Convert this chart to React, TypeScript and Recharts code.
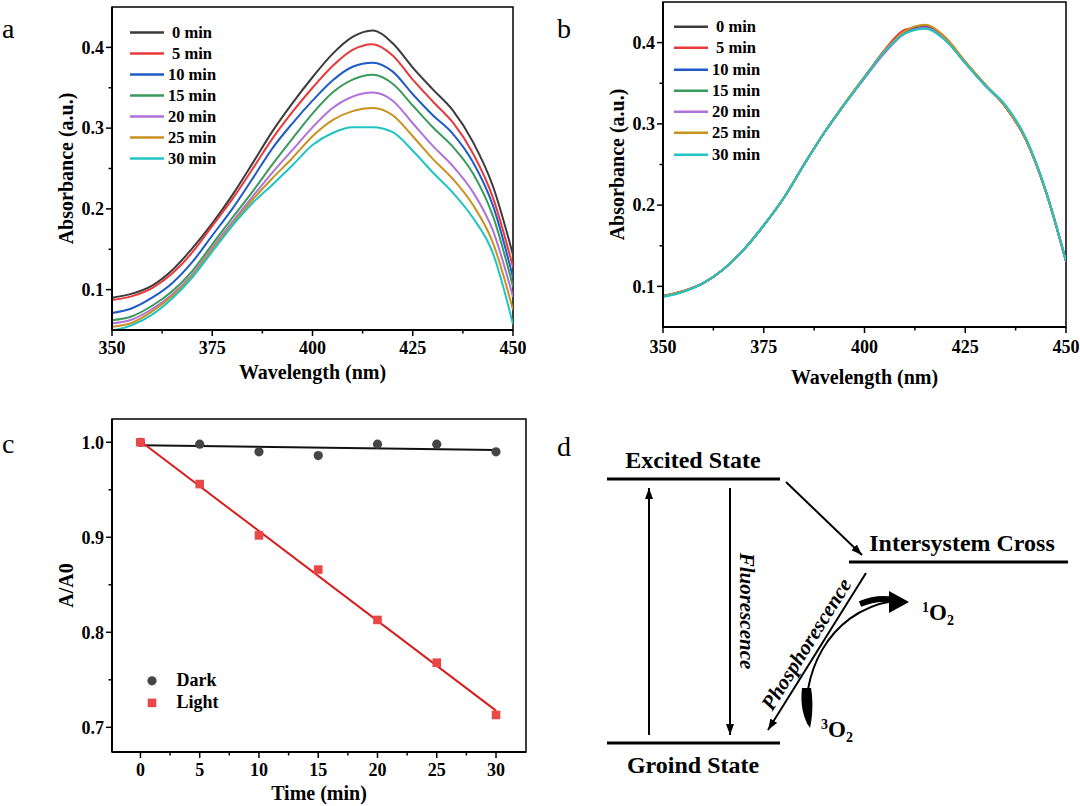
import {
  ComposedChart,
  Legend,
  Line,
  LineChart,
  ReferenceArea,
  Scatter,
  XAxis,
  YAxis,
} from "recharts";

// wavelengths (nm) shared by panels a and b
const WAVELENGTHS = [350, 355, 360, 365, 370, 375, 380, 385, 390, 395, 400, 405, 410, 415, 420, 425, 430, 435, 440, 445, 450];

// panel a: absorbance under light
const A_0 = [0.090, 0.095, 0.105, 0.124, 0.151, 0.182, 0.217, 0.256, 0.296, 0.331, 0.363, 0.392, 0.413, 0.421, 0.405, 0.375, 0.348, 0.322, 0.283, 0.228, 0.143];
const A_5 = [0.087, 0.092, 0.102, 0.120, 0.146, 0.179, 0.212, 0.249, 0.287, 0.320, 0.350, 0.377, 0.397, 0.404, 0.390, 0.360, 0.333, 0.307, 0.269, 0.214, 0.128];
const A_10 = [0.071, 0.077, 0.090, 0.108, 0.134, 0.167, 0.200, 0.237, 0.275, 0.306, 0.334, 0.359, 0.376, 0.381, 0.370, 0.342, 0.316, 0.293, 0.258, 0.204, 0.115];
const A_15 = [0.062, 0.067, 0.080, 0.098, 0.123, 0.156, 0.189, 0.221, 0.255, 0.287, 0.318, 0.344, 0.360, 0.366, 0.355, 0.328, 0.301, 0.277, 0.244, 0.191, 0.104];
const A_20 = [0.058, 0.063, 0.076, 0.094, 0.119, 0.152, 0.184, 0.215, 0.245, 0.273, 0.301, 0.325, 0.339, 0.344, 0.334, 0.306, 0.278, 0.253, 0.221, 0.173, 0.091];
const A_25 = [0.054, 0.059, 0.073, 0.092, 0.117, 0.150, 0.181, 0.211, 0.238, 0.263, 0.290, 0.310, 0.321, 0.325, 0.316, 0.290, 0.262, 0.237, 0.205, 0.158, 0.075];
const A_30 = [0.049, 0.056, 0.069, 0.089, 0.115, 0.147, 0.179, 0.207, 0.230, 0.254, 0.279, 0.294, 0.301, 0.301, 0.295, 0.272, 0.245, 0.220, 0.189, 0.145, 0.057];

// panel b: absorbance in the dark
const B_0 = [0.088, 0.094, 0.104, 0.121, 0.145, 0.175, 0.209, 0.250, 0.289, 0.324, 0.357, 0.390, 0.413, 0.421, 0.406, 0.376, 0.348, 0.321, 0.281, 0.217, 0.131];
const B_5 = [0.088, 0.094, 0.104, 0.121, 0.145, 0.175, 0.209, 0.250, 0.289, 0.324, 0.357, 0.391, 0.416, 0.420, 0.405, 0.376, 0.348, 0.321, 0.281, 0.217, 0.131];
const B_10 = [0.088, 0.094, 0.104, 0.121, 0.145, 0.175, 0.209, 0.250, 0.289, 0.324, 0.358, 0.389, 0.412, 0.419, 0.404, 0.375, 0.347, 0.321, 0.281, 0.217, 0.131];
const B_15 = [0.088, 0.094, 0.104, 0.121, 0.145, 0.175, 0.209, 0.250, 0.289, 0.324, 0.357, 0.389, 0.412, 0.418, 0.404, 0.375, 0.347, 0.322, 0.282, 0.217, 0.131];
const B_20 = [0.088, 0.094, 0.104, 0.121, 0.145, 0.175, 0.209, 0.250, 0.289, 0.324, 0.356, 0.387, 0.411, 0.418, 0.404, 0.375, 0.347, 0.322, 0.282, 0.217, 0.131];
const B_25 = [0.088, 0.094, 0.104, 0.121, 0.145, 0.175, 0.209, 0.250, 0.289, 0.325, 0.358, 0.390, 0.414, 0.422, 0.407, 0.377, 0.348, 0.321, 0.281, 0.217, 0.131];
const B_30 = [0.087, 0.093, 0.104, 0.121, 0.145, 0.175, 0.209, 0.250, 0.289, 0.324, 0.357, 0.389, 0.411, 0.417, 0.403, 0.375, 0.347, 0.323, 0.283, 0.218, 0.131];

const SERIES_NAMES = ["0 min", "5 min", "10 min", "15 min", "20 min", "25 min", "30 min"];
const SERIES_COLORS = ["#3b3b3b", "#e8393c", "#1f5bc6", "#3a9a5c", "#b071d9", "#c9921f", "#22c3c3"];

// panel c: A/A0 vs time
const TIMES = [0, 5, 10, 15, 20, 25, 30];
const DARK = [1.0, 0.998, 0.99, 0.986, 0.998, 0.998, 0.99];
const LIGHT = [1.0, 0.956, 0.902, 0.866, 0.813, 0.768, 0.713];
const FIT_TIMES = [0, 30];
const DARK_FIT = [0.997, 0.992];
const LIGHT_FIT = [1.001, 0.7175];

// ticks
const WL_MAJOR = [350, 375, 400, 425, 450];
const WL_TICKS = [350, 362.5, 375, 387.5, 400, 412.5, 425, 437.5, 450];
const ABS_MAJOR = [0.1, 0.2, 0.3, 0.4];
const ABS_TICKS = [0.1, 0.15, 0.2, 0.25, 0.3, 0.35, 0.4];
const T_MAJOR = [0, 5, 10, 15, 20, 25, 30];
const T_TICKS = [0, 2.5, 5, 7.5, 10, 12.5, 15, 17.5, 20, 22.5, 25, 27.5, 30];
const R_MAJOR = [0.7, 0.8, 0.9, 1.0];
const R_TICKS = [0.7, 0.75, 0.8, 0.85, 0.9, 0.95, 1.0];

const FONT = "'Liberation Serif', 'Times New Roman', serif";

const specA = [A_0, A_5, A_10, A_15, A_20, A_25, A_30];
const specB = [B_0, B_5, B_10, B_15, B_20, B_25, B_30];

function toRows(spec: number[][]) {
  return WAVELENGTHS.map((wl, i) => {
    const row: Record<string, number> = { wl };
    spec.forEach((s, k) => {
      row["s" + k] = s[i];
    });
    return row;
  });
}

const rowsA = toRows(specA);
const rowsB = toRows(specB);
const darkData = TIMES.map((t, i) => ({ t, v: DARK[i] }));
const lightData = TIMES.map((t, i) => ({ t, v: LIGHT[i] }));
const darkFit = FIT_TIMES.map((t, i) => ({ t, v: DARK_FIT[i] }));
const lightFit = FIT_TIMES.map((t, i) => ({ t, v: LIGHT_FIT[i] }));

const tickText = { fontFamily: FONT, fontWeight: 700, fontSize: 18, fill: "#000" };
const titleText = { fontFamily: FONT, fontWeight: 700, fontSize: 20, fill: "#000" };

function leftTick(axisX: number, majors: number[], digits: number) {
  return (p: any) => {
    const v = p.payload.value;
    const major = majors.includes(v);
    return (
      <g>
        <line x1={axisX} x2={axisX - (major ? 6 : 3.5)} y1={p.y} y2={p.y} stroke="#000" strokeWidth={1.5} />
        {major && (
          <text x={axisX - 8} y={p.y} dy="0.35em" textAnchor="end" {...tickText}>
            {v.toFixed(digits)}
          </text>
        )}
      </g>
    );
  };
}

function bottomTick(axisY: number, majors: number[], gap: number) {
  return (p: any) => {
    const v = p.payload.value;
    const major = majors.includes(v);
    return (
      <g>
        <line x1={p.x} x2={p.x} y1={axisY} y2={axisY + (major ? 6 : 3.5)} stroke="#000" strokeWidth={1.5} />
        {major && (
          <text x={p.x} y={axisY + gap} dy="0.35em" textAnchor="middle" {...tickText}>
            {v}
          </text>
        )}
      </g>
    );
  };
}

function yTitle(text: string, x: number, y: number) {
  return () => (
    <text transform={`translate(${x},${y}) rotate(-90)`} textAnchor="middle" dy="0.35em" {...titleText}>
      {text}
    </text>
  );
}

function xTitle(text: string, x: number, y: number) {
  return () => (
    <text x={x} y={y} textAnchor="middle" dy="0.35em" {...titleText}>
      {text}
    </text>
  );
}

function lineLegend(left: number, top: number, rowH: number, lineW: number) {
  return (
    <Legend
      layout="horizontal"
      verticalAlign="middle"
      align="center"
      itemSorter="dataKey"
      wrapperStyle={{ left, top, width: 120, height: rowH * 7 }}
      content={(props: any) => (
        <div style={{ fontFamily: FONT, fontWeight: 700, fontSize: 16.5 }}>
          {(props.payload || []).map((e: any) => (
            <div key={e.value} style={{ display: "flex", alignItems: "center", height: rowH }}>
              <svg width={lineW} height={rowH} style={{ display: "block" }}>
                <line x1={0} x2={lineW} y1={rowH / 2} y2={rowH / 2} stroke={e.color} strokeWidth={2.5} />
              </svg>
              <span style={{ width: 56, textAlign: "center", lineHeight: `${rowH}px` }}>{e.value}</span>
            </div>
          ))}
        </div>
      )}
    />
  );
}

function SpectrumChart({
  rows,
  margin,
  legendLeft,
  legendTop,
  legendRow,
  xTitleGap,
  xTickGap,
}: {
  rows: Record<string, number>[];
  margin: { top: number; right: number; bottom: number; left: number };
  legendLeft: number;
  legendTop: number;
  legendRow: number;
  xTitleGap: number;
  xTickGap: number;
}) {
  const W = 540;
  const H = 400;
  const axisX = margin.left + 60;
  const axisY = H - margin.bottom - 30;
  const midX = (axisX + W - margin.right) / 2;
  const midY = (margin.top + axisY) / 2;
  return (
    <LineChart width={W} height={H} data={rows} margin={margin}>
      <XAxis
        type="number"
        dataKey="wl"
        domain={[350, 450]}
        ticks={WL_TICKS}
        interval={0}
        allowDataOverflow
        height={30}
        tickLine={false}
        axisLine={{ stroke: "#000", strokeWidth: 2 }}
        tick={bottomTick(axisY, WL_MAJOR, xTickGap)}
        label={xTitle("Wavelength (nm)", midX, axisY + xTitleGap)}
      />
      <YAxis
        type="number"
        domain={[0.05, 0.45]}
        ticks={ABS_TICKS}
        interval={0}
        allowDataOverflow
        width={60}
        tickLine={false}
        axisLine={{ stroke: "#000", strokeWidth: 2 }}
        tick={leftTick(axisX, ABS_MAJOR, 1)}
        label={yTitle("Absorbance (a.u.)", axisX - 46, midY)}
      />
      <ReferenceArea x1={350} x2={450} y1={0.05} y2={0.45} fill="none" stroke="#000" strokeWidth={1.5} ifOverflow="visible" />
      {SERIES_NAMES.map((name, k) => (
        <Line
          key={name}
          type="monotone"
          dataKey={"s" + k}
          name={name}
          stroke={SERIES_COLORS[k]}
          strokeWidth={2}
          dot={false}
          isAnimationActive={false}
        />
      ))}
      {lineLegend(legendLeft, legendTop, legendRow, 34)}
    </LineChart>
  );
}

function RatioChart() {
  const W = 540;
  const H = 406;
  const margin = { top: 19, right: 14, bottom: 24, left: 52 };
  const axisX = margin.left + 60;
  const axisY = H - margin.bottom - 30;
  const midX = (axisX + W - margin.right) / 2;
  const midY = (margin.top + axisY) / 2;
  return (
    <ComposedChart width={W} height={H} margin={margin}>
      <XAxis
        type="number"
        dataKey="t"
        domain={[-2.4, 32.53]}
        ticks={T_TICKS}
        interval={0}
        allowDataOverflow
        height={30}
        tickLine={false}
        axisLine={{ stroke: "#000", strokeWidth: 2 }}
        tick={bottomTick(axisY, T_MAJOR, 18)}
        label={xTitle("Time (min)", midX, axisY + 41)}
      />
      <YAxis
        type="number"
        dataKey="v"
        domain={[0.674, 1.0245]}
        ticks={R_TICKS}
        interval={0}
        allowDataOverflow
        width={60}
        tickLine={false}
        axisLine={{ stroke: "#000", strokeWidth: 2 }}
        tick={leftTick(axisX, R_MAJOR, 1)}
        label={yTitle("A/A0", axisX - 46, midY)}
      />
      <ReferenceArea x1={-2.4} x2={32.53} y1={0.674} y2={1.0245} fill="none" stroke="#000" strokeWidth={1.5} ifOverflow="visible" />
      <Scatter
        name="Dark"
        data={darkData}
        dataKey="v"
        fill="#454545"
        isAnimationActive={false}
        shape={(p: any) => <circle cx={p.cx} cy={p.cy} r={4.6} fill="#454545" />}
      />
      <Scatter
        name="Light"
        data={lightData}
        dataKey="v"
        fill="#e84848"
        isAnimationActive={false}
        shape={(p: any) => <rect x={p.cx - 4.3} y={p.cy - 4.3} width={8.6} height={8.6} fill="#e84848" />}
      />
      <Line data={darkFit} dataKey="v" type="linear" stroke="#111" strokeWidth={2} dot={false} legendType="none" isAnimationActive={false} />
      <Line data={lightFit} dataKey="v" type="linear" stroke="#d91c1c" strokeWidth={2} dot={false} legendType="none" isAnimationActive={false} />
      <Legend
        layout="horizontal"
        verticalAlign="middle"
        align="center"
        wrapperStyle={{ left: 144, top: 270, width: 120, height: 44 }}
        content={(props: any) => (
          <div style={{ fontFamily: FONT, fontWeight: 700, fontSize: 18 }}>
            {(props.payload || [])
              .filter((e: any) => e.value === "Dark" || e.value === "Light")
              .map((e: any) => (
                <div key={e.value} style={{ display: "flex", alignItems: "center", height: 21.7 }}>
                  <svg width={16} height={21.7} style={{ display: "block" }}>
                    {e.value === "Dark" ? (
                      <circle cx={8} cy={10.85} r={4.6} fill="#454545" />
                    ) : (
                      <rect x={3.7} y={6.55} width={8.6} height={8.6} fill="#e84848" />
                    )}
                  </svg>
                  <span style={{ marginLeft: 16.5, lineHeight: "21.7px" }}>{e.value}</span>
                </div>
              ))}
          </div>
        )}
      />
    </ComposedChart>
  );
}

function Diagram() {
  const bold = { fontFamily: FONT, fontWeight: 700, fill: "#000" };
  const ital = { fontFamily: FONT, fontWeight: 700, fontStyle: "italic", fill: "#000" };
  const letter = { fontFamily: FONT, fontSize: 28, fill: "#000" };
  return (
    <svg width={1080} height={806} style={{ position: "absolute", left: 0, top: 0, pointerEvents: "none" }}>
      <defs>
        <marker id="ah" viewBox="0 0 11 8" refX={11} refY={4} markerWidth={11} markerHeight={8} markerUnits="userSpaceOnUse" orient="auto">
          <path d="M0,0 L11,4 L0,8 z" fill="#000" />
        </marker>
      </defs>
      <text x={2} y={38} {...letter}>a</text>
      <text x={557} y={38} {...letter}>b</text>
      <text x={2} y={453} {...letter}>c</text>
      <text x={557} y={456} {...letter}>d</text>

      <text x={693} y={468} textAnchor="middle" fontSize={24} {...bold}>Excited State</text>
      <line x1={607} x2={780} y1={479} y2={479} stroke="#000" strokeWidth={3} />
      <line x1={607} x2={780} y1={743} y2={743} stroke="#000" strokeWidth={3} />
      <text x={693} y={773} textAnchor="middle" fontSize={24} {...bold}>Groind State</text>

      <line x1={649} x2={649} y1={735} y2={488} stroke="#000" strokeWidth={2} markerEnd="url(#ah)" />
      <line x1={730} x2={730} y1={488} y2={735} stroke="#000" strokeWidth={2} markerEnd="url(#ah)" />
      <text transform="translate(747,611) rotate(90)" textAnchor="middle" dy="0.35em" fontSize={21} {...ital}>Fluorescence</text>

      <line x1={786} x2={862} y1={482} y2={555} stroke="#000" strokeWidth={2} markerEnd="url(#ah)" />
      <text x={962} y={551} textAnchor="middle" fontSize={24} {...bold}>Intersystem Cross</text>
      <line x1={849} x2={1068} y1={562} y2={562} stroke="#000" strokeWidth={3} />

      <line x1={866} x2={768} y1={573} y2={730} stroke="#000" strokeWidth={2} markerEnd="url(#ah)" />
      <text transform="translate(806,644) rotate(-58)" textAnchor="middle" dy="0.35em" fontSize={21} {...ital}>Phosphorescence</text>

      <path d="M808,724 C800,680 825,612 893,601" fill="none" stroke="#000" strokeWidth={2} />
      <path d="M802,688 C800,704 803,718 810,728 C813,714 813,700 811,688 Z" fill="#000" />
      <path d="M860,604 C872,599 884,598 893,600" fill="none" stroke="#000" strokeWidth={6} />
      <path d="M889,591 L909,602 L889,613 Z" fill="#000" />

      <text x={922} y={620} fontSize={23} {...bold}>
        <tspan fontSize={14} dy={-8}>1</tspan>
        <tspan dy={8}>O</tspan>
        <tspan fontSize={14} dy={5}>2</tspan>
      </text>
      <text x={821} y={737} fontSize={23} {...bold}>
        <tspan fontSize={14} dy={-8}>3</tspan>
        <tspan dy={8}>O</tspan>
        <tspan fontSize={14} dy={5}>2</tspan>
      </text>
    </svg>
  );
}

export default function App() {
  return (
    <div style={{ position: "absolute", left: 0, top: 0, width: 1080, height: 806, background: "#fff", overflow: "hidden" }}>
      <div style={{ position: "absolute", left: 0, top: 0 }}>
        <SpectrumChart
          rows={rowsA}
          margin={{ top: 7, right: 27, bottom: 40, left: 52 }}
          legendLeft={130}
          legendTop={22}
          legendRow={21}
          xTitleGap={42}
          xTickGap={18}
        />
      </div>
      <div style={{ position: "absolute", left: 540, top: 0 }}>
        <SpectrumChart
          rows={rowsB}
          margin={{ top: 2, right: 14, bottom: 43, left: 63 }}
          legendLeft={134}
          legendTop={16}
          legendRow={21.3}
          xTitleGap={50}
          xTickGap={20}
        />
      </div>
      <div style={{ position: "absolute", left: 0, top: 400 }}>
        <RatioChart />
      </div>
      <Diagram />
    </div>
  );
}
